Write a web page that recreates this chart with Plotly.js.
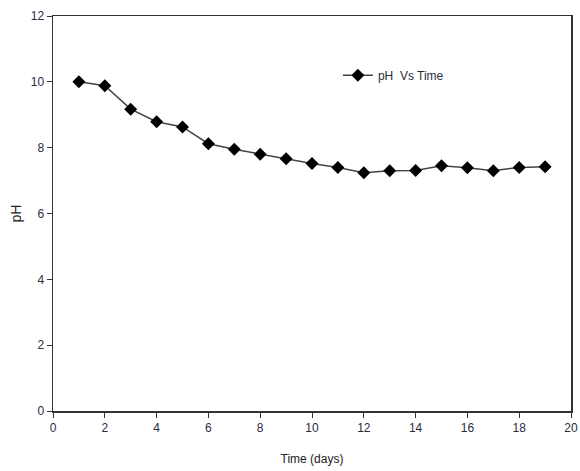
<!DOCTYPE html>
<html>
<head>
<meta charset="utf-8">
<script src="https://cdn.plot.ly/plotly-3.0.1.min.js"></script>
<style>html,body{margin:0;padding:0;background:#fff;}#chart{width:580px;height:471px;}</style>
</head>
<body>
<div id="chart"></div>
<script>
var days = [1,2,3,4,5,6,7,8,9,10,11,12,13,14,15,16,17,18,19];
var phValues = [10.0,9.88,9.17,8.79,8.63,8.12,7.95,7.80,7.66,7.52,7.40,7.24,7.30,7.31,7.45,7.39,7.30,7.40,7.42];
var xTicks = [0,2,4,6,8,10,12,14,16,18,20];
var yTicks = [0,2,4,6,8,10,12];
var seriesName = 'pH  Vs Time';

var trace = {
  x: days, y: phValues, name: seriesName, type: 'scatter', mode: 'lines+markers',
  line: {color: '#444', width: 1.5},
  marker: {symbol: 'diamond', size: 10, color: '#000'}
};
var axisFont = {family: 'Liberation Sans, Arial, sans-serif', size: 12, color: '#2b2b40'};
var layout = {
  width: 580, height: 471,
  margin: {l: 53, r: 9, t: 16, b: 60},
  paper_bgcolor: '#fff', plot_bgcolor: '#fff',
  showlegend: true,
  legend: {x: 0.55, y: 0.85, xanchor: 'left', yanchor: 'middle', bgcolor: 'rgba(0,0,0,0)',
           font: {family: 'Liberation Sans, Arial, sans-serif', size: 12, color: '#2b2b40'}},
  xaxis: {range: [0, 20], tickvals: xTicks, ticks: 'outside', ticklen: 5, tickcolor: '#333',
          showline: true, linecolor: '#333', linewidth: 1.5, mirror: true, showgrid: false, zeroline: false,
          tickfont: axisFont,
          title: {text: 'Time (days)', font: {family: 'Liberation Sans, Arial, sans-serif', size: 12, color: '#222'}, standoff: 20}},
  yaxis: {range: [0, 12], tickvals: yTicks, ticks: 'outside', ticklen: 5, tickcolor: '#333',
          showline: true, linecolor: '#333', linewidth: 1.5, mirror: true, showgrid: false, zeroline: false,
          tickfont: axisFont,
          title: {text: 'pH', font: {family: 'Liberation Sans, Arial, sans-serif', size: 14, color: '#222'}, standoff: 6}}
};
Plotly.newPlot('chart', [trace], layout, {displayModeBar: false, staticPlot: true});
</script>
</body>
</html>
